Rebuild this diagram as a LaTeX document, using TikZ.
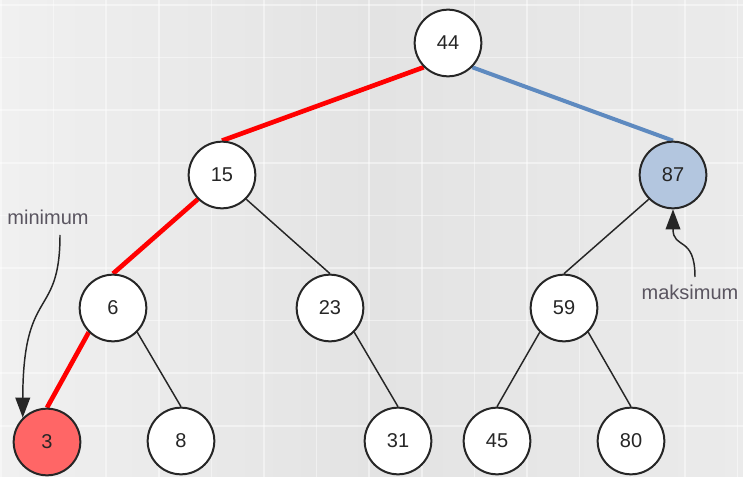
\documentclass[tikz,border=0pt]{standalone}
\usepackage{fontspec}
\setmainfont{Liberation Sans}
\usetikzlibrary{arrows.meta,backgrounds}

\definecolor{edgeblue}{HTML}{5E8AC0}
\definecolor{maxfill}{HTML}{B3C6DF}
\definecolor{minfill}{HTML}{FF6666}
\definecolor{labelgray}{HTML}{5A5560}
\definecolor{paperedge}{HTML}{F7F7F7}
\definecolor{papermid}{HTML}{E3E3E3}
\pgfdeclarehorizontalshading{paper}{100bp}{color(0bp)=(paperedge); color(12bp)=(paperedge);
	color(50bp)=(papermid); color(88bp)=(paperedge!60!papermid); color(100bp)=(paperedge)}

\tikzset{
	key/.style={circle, draw=black!85, line width=1.5pt, fill=white, text=black!85,
		minimum size=50pt, inner sep=0pt, font=\fontsize{15}{18}\selectfont},
	link/.style={line width=1.1pt, black!85},
	minpath/.style={line width=3.5pt, red},
	maxpath/.style={line width=3pt, edgeblue},
	tag/.style={text=labelgray, font=\fontsize{15}{18}\selectfont},
	gridline/.style={line width=1.2pt, white, opacity=0.45},
}

\begin{document}
\begin{tikzpicture}[x=0.75pt, y=-0.75pt, >={Triangle[length=15pt,width=11pt]}]
	\useasboundingbox (0,0) rectangle (743,477);
	% keys, level by level
	\node[key] (n44) at (448,43) {44};
	\node[key] (n15) at (222,175) {15};
	\node[key, fill=maxfill] (n87) at (673,175) {87};
	\node[key] (n6) at (113,308) {6};
	\node[key] (n23) at (330,308) {23};
	\node[key] (n59) at (564,308) {59};
	\node[key, fill=minfill] (n3) at (47,442) {3};
	\node[key] (n8) at (181,441) {8};
	\node[key] (n31) at (398,441) {31};
	\node[key] (n45) at (497,441) {45};
	\node[key] (n80) at (631,441) {80};
	\node[tag] (min) at (48,217) {minimum};
	\node[tag] (max) at (690,292) {maksimum};
	\coordinate (mintail) at (60,235);
	\coordinate (maxtail) at (695,277);

	\begin{pgfonlayer}{background}
		% paper with grid
		\shade[shading=paper] (0,0) rectangle (743,477);
		\foreach \k in {0,...,14}
			\draw[gridline] ({1+52.6*\k},0) -- ++(0,477);
		\foreach \k in {0,...,8}
			\draw[gridline] (0,{5+52.6*\k}) -- ++(743,0);
		% edges
		\draw[minpath] (n44.south west) -- (n15.north);
		\draw[minpath] (n15.south west) -- (n6.north);
		\draw[minpath] (n6.south west) -- (n3.north);
		\draw[maxpath] (n44.south east) -- (n87.north);
		\draw[link] (n15.south east) -- (n23.north);
		\draw[link] (n6.south east) -- (n8.north);
		\draw[link] (n23.south east) -- (n31.north);
		\draw[link] (n87.south west) -- (n59.north);
		\draw[link] (n59.south west) -- (n45.north);
		\draw[link] (n59.south east) -- (n80.north);
	\end{pgfonlayer}

	\draw[->, link] (mintail) .. controls (60,320) and (23,285) .. (n3.north west);
	\draw[->, link] (maxtail) .. controls (695,235) and (673,250) .. (n87.south);
\end{tikzpicture}
\end{document}
